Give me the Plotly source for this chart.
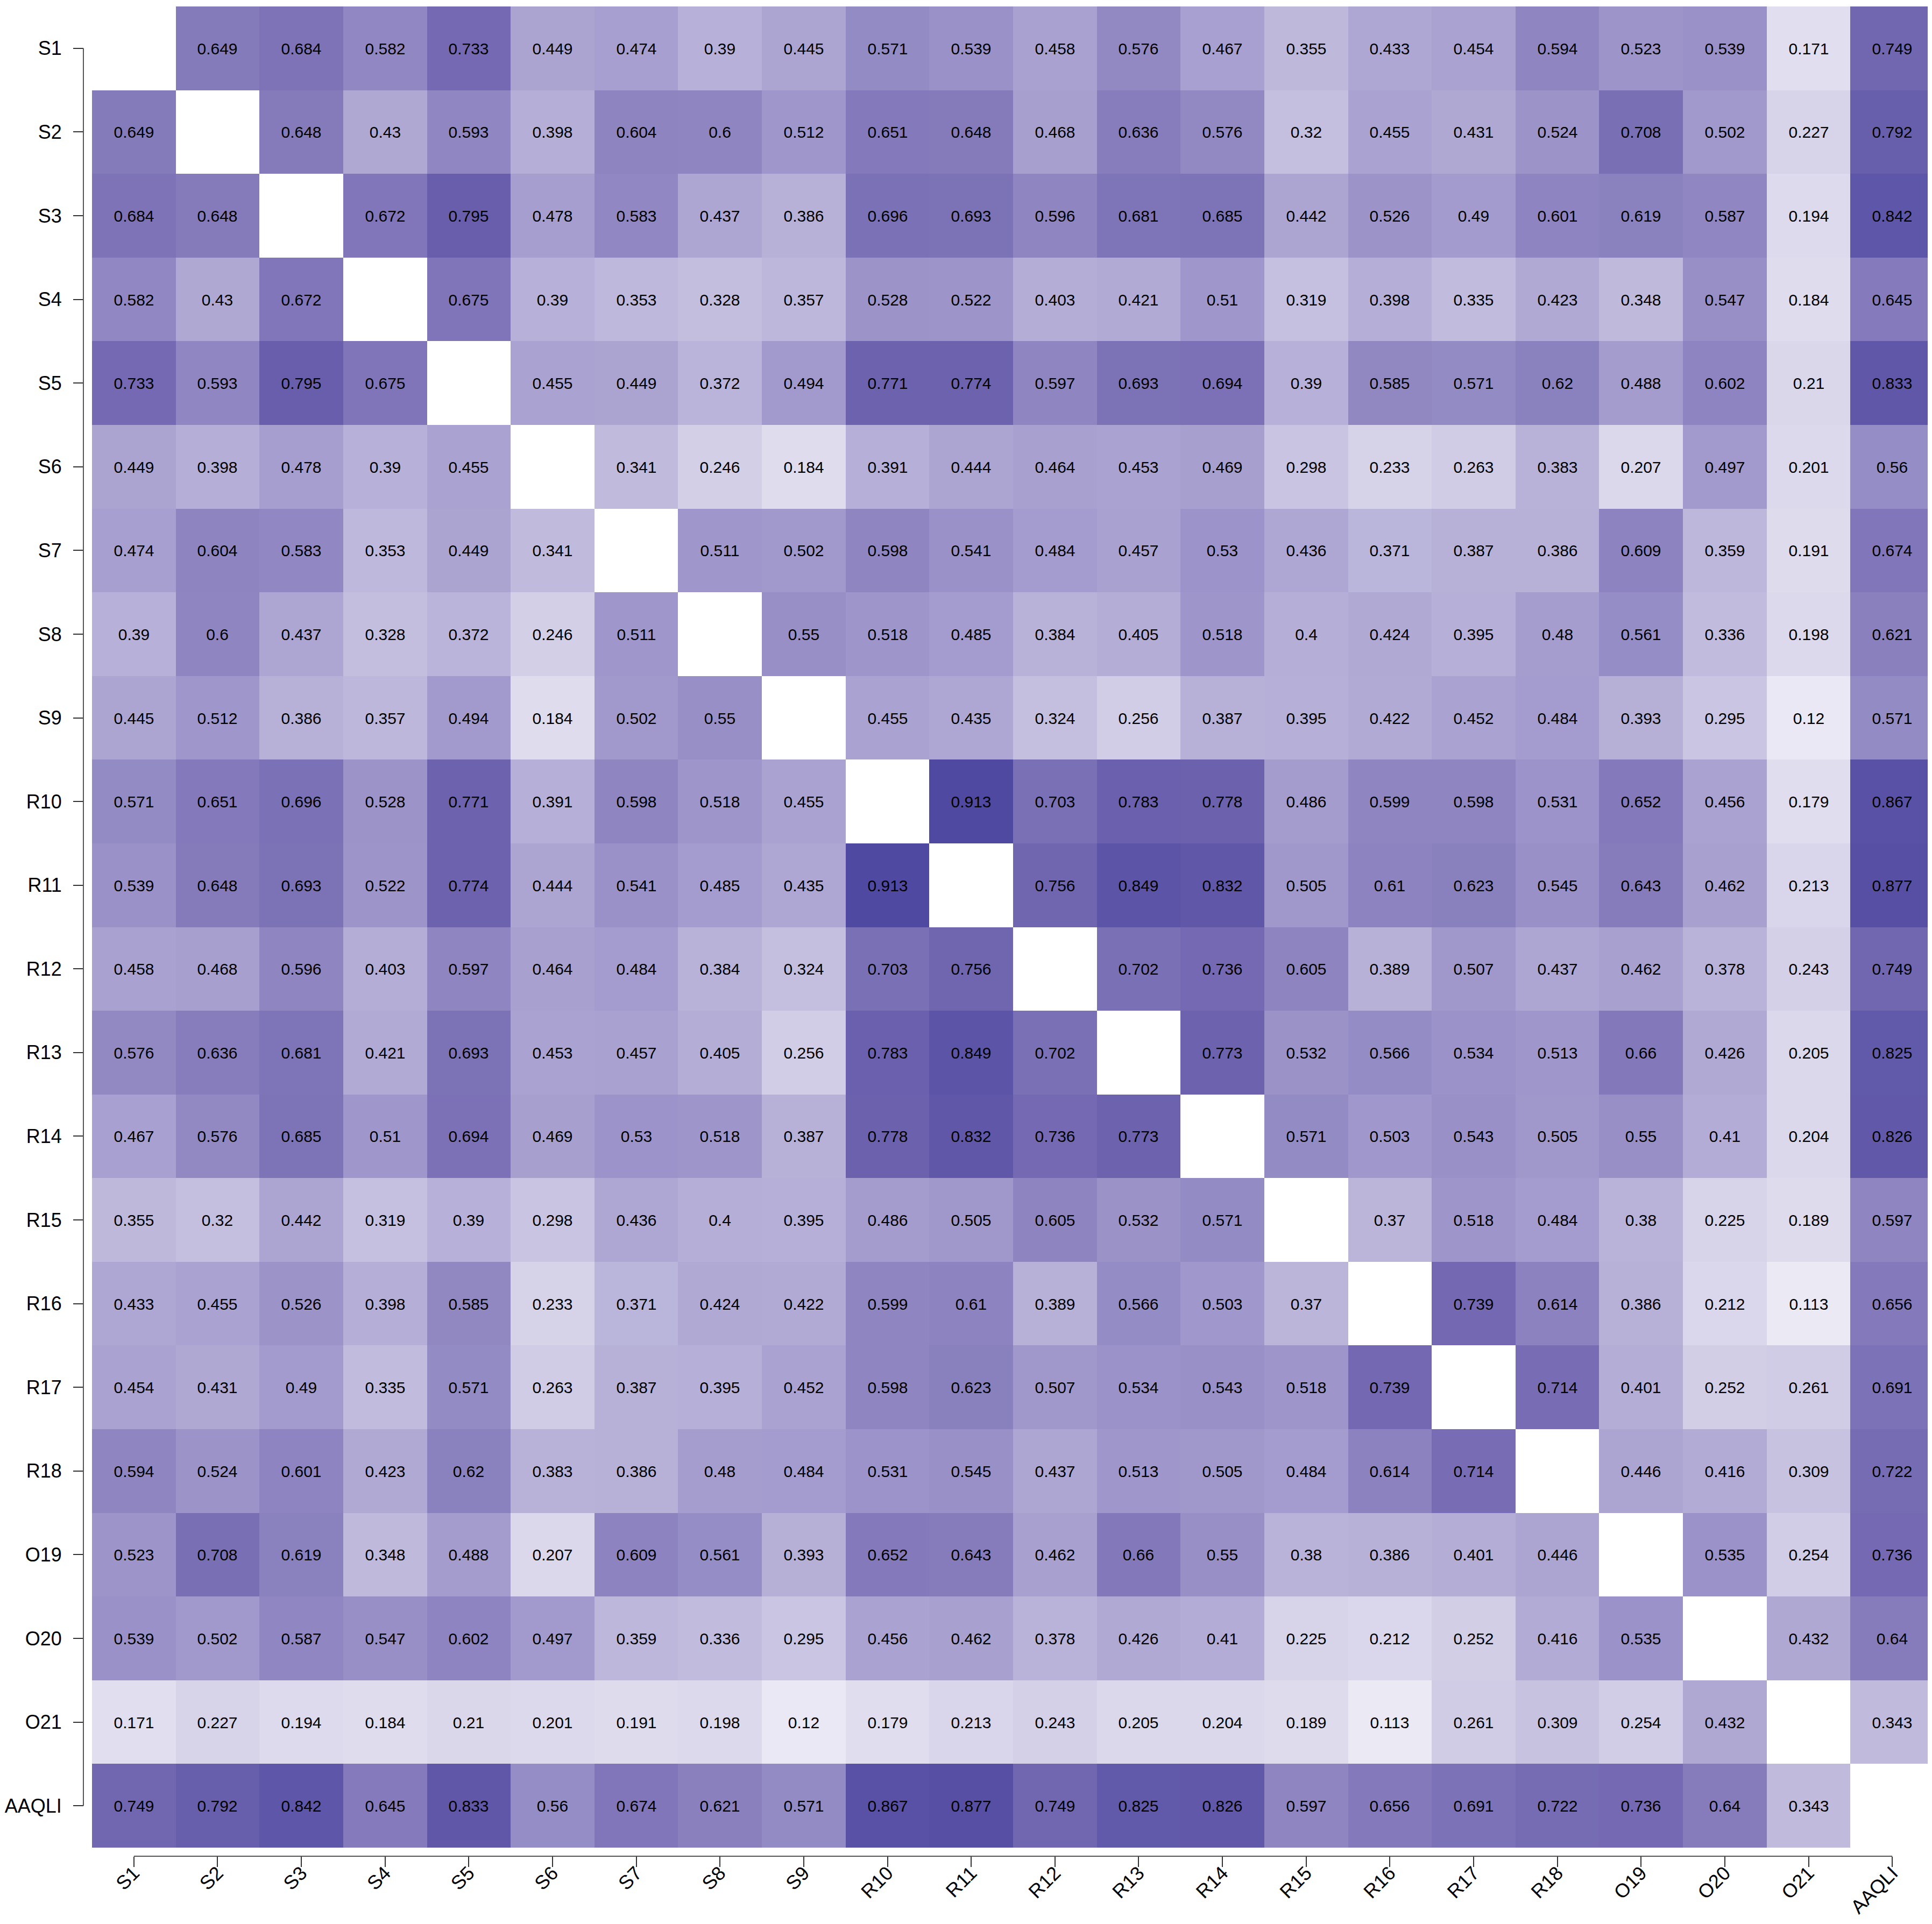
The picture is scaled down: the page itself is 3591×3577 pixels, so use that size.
import plotly.graph_objects as go

labels = ["S1", "S2", "S3", "S4", "S5", "S6", "S7", "S8", "S9",
          "R10", "R11", "R12", "R13", "R14", "R15", "R16", "R17", "R18",
          "O19", "O20", "O21", "AAQLI"]

# lower triangle of the correlation matrix, row i holds columns 0..i-1
lower = [
    [],
    [0.649],
    [0.684, 0.648],
    [0.582, 0.43, 0.672],
    [0.733, 0.593, 0.795, 0.675],
    [0.449, 0.398, 0.478, 0.39, 0.455],
    [0.474, 0.604, 0.583, 0.353, 0.449, 0.341],
    [0.39, 0.6, 0.437, 0.328, 0.372, 0.246, 0.511],
    [0.445, 0.512, 0.386, 0.357, 0.494, 0.184, 0.502, 0.55],
    [0.571, 0.651, 0.696, 0.528, 0.771, 0.391, 0.598, 0.518, 0.455],
    [0.539, 0.648, 0.693, 0.522, 0.774, 0.444, 0.541, 0.485, 0.435, 0.913],
    [0.458, 0.468, 0.596, 0.403, 0.597, 0.464, 0.484, 0.384, 0.324, 0.703, 0.756],
    [0.576, 0.636, 0.681, 0.421, 0.693, 0.453, 0.457, 0.405, 0.256, 0.783, 0.849, 0.702],
    [0.467, 0.576, 0.685, 0.51, 0.694, 0.469, 0.53, 0.518, 0.387, 0.778, 0.832, 0.736, 0.773],
    [0.355, 0.32, 0.442, 0.319, 0.39, 0.298, 0.436, 0.4, 0.395, 0.486, 0.505, 0.605, 0.532, 0.571],
    [0.433, 0.455, 0.526, 0.398, 0.585, 0.233, 0.371, 0.424, 0.422, 0.599, 0.61, 0.389, 0.566, 0.503, 0.37],
    [0.454, 0.431, 0.49, 0.335, 0.571, 0.263, 0.387, 0.395, 0.452, 0.598, 0.623, 0.507, 0.534, 0.543, 0.518, 0.739],
    [0.594, 0.524, 0.601, 0.423, 0.62, 0.383, 0.386, 0.48, 0.484, 0.531, 0.545, 0.437, 0.513, 0.505, 0.484, 0.614, 0.714],
    [0.523, 0.708, 0.619, 0.348, 0.488, 0.207, 0.609, 0.561, 0.393, 0.652, 0.643, 0.462, 0.66, 0.55, 0.38, 0.386, 0.401, 0.446],
    [0.539, 0.502, 0.587, 0.547, 0.602, 0.497, 0.359, 0.336, 0.295, 0.456, 0.462, 0.378, 0.426, 0.41, 0.225, 0.212, 0.252, 0.416, 0.535],
    [0.171, 0.227, 0.194, 0.184, 0.21, 0.201, 0.191, 0.198, 0.12, 0.179, 0.213, 0.243, 0.205, 0.204, 0.189, 0.113, 0.261, 0.309, 0.254, 0.432],
    [0.749, 0.792, 0.842, 0.645, 0.833, 0.56, 0.674, 0.621, 0.571, 0.867, 0.877, 0.749, 0.825, 0.826, 0.597, 0.656, 0.691, 0.722, 0.736, 0.64, 0.343],
]

n = len(labels)
z = [[None] * n for _ in range(n)]
for i, row in enumerate(lower):
    for j, v in enumerate(row):
        z[i][j] = v
        z[j][i] = v
txt = [["" if v is None else str(v) for v in row] for row in z]

W, H = 3591, 3577
ml, mr, mt, mb = 147, 4, 4, 134
pw = W - ml - mr
ph = H - mt - mb
gap = 16
font = "Arial, Liberation Sans, sans-serif"

fig = go.Figure(go.Heatmap(
    z=z, x=labels, y=labels, text=txt, texttemplate="%{text}",
    textfont=dict(size=30, color="black", family=font),
    colorscale=[[0, "#ffffff"], [0.2, "#dcd9ec"], [0.5, "#a199cc"],
                [0.75, "#7166b0"], [0.913, "#4f49a1"], [1, "#403a98"]],
    zmin=0, zmax=1, showscale=False, hoverongaps=False,
))

axis_font = dict(size=36, color="black", family=font)
fig.update_layout(
    width=W, height=H,
    margin=dict(l=ml, r=mr, t=mt, b=mb, autoexpand=False),
    plot_bgcolor="white", paper_bgcolor="white",
    xaxis=dict(domain=[gap / pw, 1], anchor="free", position=0, automargin=False,
               tickangle=-45, ticks="outside", ticklen=19, tickwidth=2,
               tickcolor="#333", showline=False, showgrid=False, zeroline=False,
               tickfont=axis_font, ticklabelstandoff=-24),
    yaxis=dict(domain=[gap / ph, 1], anchor="free", position=0, automargin=False,
               autorange="reversed", ticks="outside", ticklen=19, tickwidth=2,
               tickcolor="#333", showline=False, showgrid=False, zeroline=False,
               tickfont=axis_font, ticklabelstandoff=14),
)

# R-style axis lines that stop at the first and last tick
fig.add_shape(type="line", xref="paper", yref="y", x0=0, x1=0, y0=0, y1=n - 1,
              line=dict(color="#555", width=2))
fig.add_shape(type="line", xref="x", yref="paper", x0=0, x1=n - 1, y0=0, y1=0,
              line=dict(color="#555", width=2))

fig.write_html("out.html")
